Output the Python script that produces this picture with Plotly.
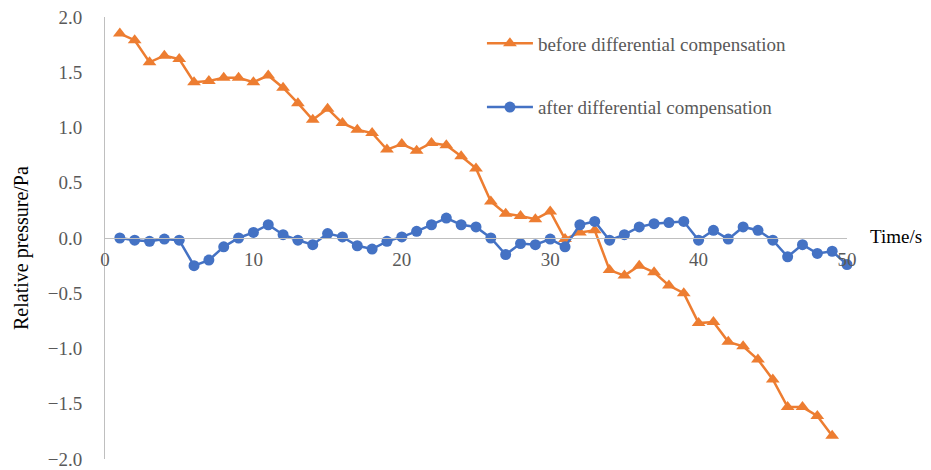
import plotly.graph_objects as go

time_before = list(range(1, 50))
before = [1.85, 1.79, 1.59, 1.65, 1.62, 1.41, 1.42, 1.45, 1.45, 1.41,
          1.47, 1.36, 1.22, 1.07, 1.17, 1.04, 0.98, 0.95, 0.80, 0.85,
          0.79, 0.86, 0.84, 0.74, 0.63, 0.33, 0.22, 0.20, 0.17, 0.24,
          -0.01, 0.05, 0.07, -0.29, -0.34, -0.25, -0.31, -0.43, -0.50, -0.77,
          -0.76, -0.94, -0.98, -1.10, -1.28, -1.53, -1.53, -1.61, -1.79]
time_after = list(range(1, 51))
after = [0.00, -0.02, -0.03, -0.01, -0.02, -0.25, -0.20, -0.08, 0.00, 0.05,
         0.12, 0.03, -0.02, -0.06, 0.04, 0.01, -0.07, -0.10, -0.03, 0.01,
         0.06, 0.12, 0.18, 0.12, 0.10, 0.00, -0.15, -0.05, -0.06, -0.01,
         -0.08, 0.12, 0.15, -0.02, 0.03, 0.10, 0.13, 0.14, 0.15, -0.02,
         0.07, -0.01, 0.10, 0.07, -0.02, -0.17, -0.06, -0.14, -0.12, -0.24]

x_ticks = [0, 10, 20, 30, 40, 50]
y_ticks = [2.0, 1.5, 1.0, 0.5, 0.0, -0.5, -1.0, -1.5, -2.0]

FONT = "Liberation Serif, Times New Roman, DejaVu Serif, serif"
GRAY = "#595959"

fig = go.Figure()
fig.add_trace(go.Scatter(
    x=time_before, y=before, mode="lines+markers", name="before differential compensation",
    line=dict(color="#ED7D31", width=2.5),
    marker=dict(symbol="triangle-up", size=12, color="#ED7D31"),
    legendgroup="a", cliponaxis=False))
fig.add_trace(go.Scatter(
    x=time_after, y=after, mode="lines+markers", name="after differential compensation",
    line=dict(color="#4472C4", width=2.5),
    marker=dict(symbol="circle", size=11, color="#4472C4"),
    legendgroup="b", cliponaxis=False))

fig.update_layout(
    width=931, height=470,
    margin=dict(l=97, r=92, t=9, b=19, autoexpand=False),
    paper_bgcolor="white", plot_bgcolor="white",
    font=dict(family=FONT, size=19, color=GRAY),
    showlegend=True,
    legend=dict(x=0.508, y=0.983, xanchor="left", yanchor="top",
                font=dict(family=FONT, size=19, color=GRAY),
                itemwidth=46,
                tracegroupgap=36, bgcolor="rgba(0,0,0,0)"),
    xaxis=dict(range=[0, 50], tickvals=x_ticks, showgrid=False, zeroline=False,
               showline=True, linecolor="#BFBFBF", linewidth=1,
               anchor="free", position=0.5, ticks="", automargin=False,
               ticklabelstandoff=4, ticklabeloverflow="allow",
               tickfont=dict(family=FONT, size=19, color=GRAY)),
    yaxis=dict(range=[-2.0, 2.0], tickvals=y_ticks, tickformat=".1f",
               showgrid=False, zeroline=False, showline=True, automargin=False,
               linecolor="#BFBFBF", linewidth=1, ticks="", ticklabelstandoff=18,
               ticklabeloverflow="allow",
               tickfont=dict(family=FONT, size=19, color=GRAY)),
    annotations=[
        dict(text="Time/s", x=1.0, y=0.0, xref="paper", yref="y",
             xanchor="left", yanchor="middle", xshift=21, yshift=2,
             showarrow=False, font=dict(family=FONT, size=19, color="black")),
        dict(text="Relative pressure/Pa", x=0, y=0.5, xref="paper", yref="paper",
             xanchor="center", yanchor="middle", xshift=-84, yshift=-10,
             textangle=-90,
             showarrow=False, font=dict(family=FONT, size=20, color="black")),
    ],
)

fig.write_html("out.html")
